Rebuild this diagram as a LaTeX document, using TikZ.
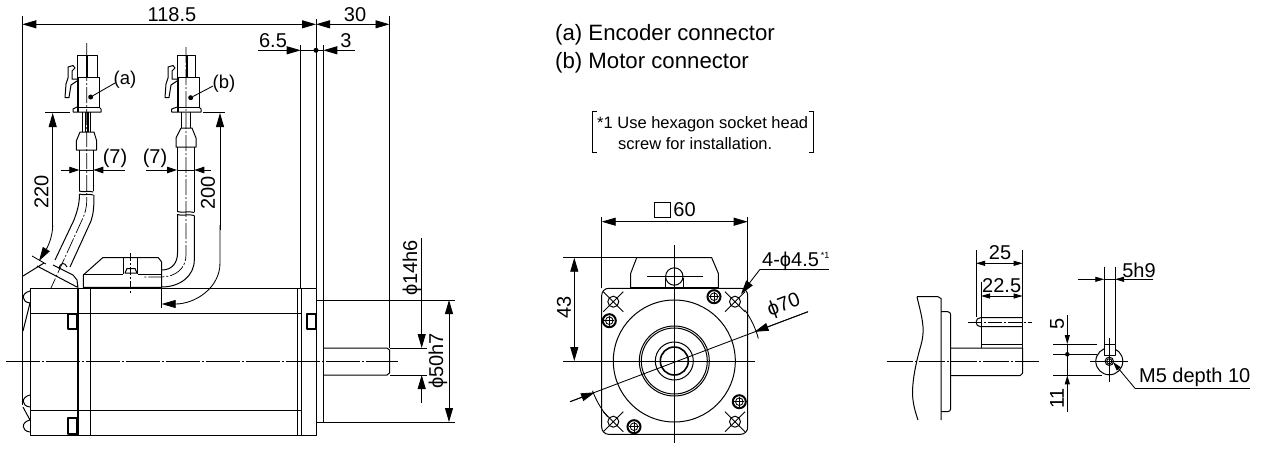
\documentclass[tikz,border=0pt]{standalone}
\usepackage{fontspec}
\setmainfont{Liberation Sans}
\usetikzlibrary{arrows.meta,calc}
\tikzset{
 ln/.style={line width=1pt,black,line cap=butt,line join=round},
 dm/.style={line width=0.85pt,black},
 thk/.style={line width=1.7pt,black},
 ctr/.style={line width=0.85pt,black,dash pattern=on 34pt off 2pt on 2pt off 2pt},
 ctrs/.style={line width=0.7pt,black,dash pattern=on 16pt off 2pt on 2pt off 2pt},
 ah/.style={-{Triangle[length=14pt,width=8pt]}},
 ahm/.style={-{Triangle[length=10pt,width=6.5pt]}},
 ahb/.style={{Triangle[length=14pt,width=8pt]}-{Triangle[length=14pt,width=8pt]}},
 as/.style={-{Triangle[length=9pt,width=5pt]}},
 asb/.style={{Triangle[length=9pt,width=5pt]}-{Triangle[length=9pt,width=5pt]}},
 lab/.style={inner sep=0pt,font=\fontsize{20}{20}\selectfont},
 labm/.style={inner sep=0pt,font=\fontsize{18.5}{19}\selectfont},
 labs/.style={inner sep=0pt,font=\fontsize{20}{20}\selectfont},
 big/.style={inner sep=0pt,anchor=west,font=\fontsize{22.2}{23}\selectfont},
 note/.style={inner sep=0pt,anchor=west,font=\fontsize{16.5}{17}\selectfont},
 dotn/.style={circle,fill=black,inner sep=0pt,minimum size=5pt}
}
\begin{document}
\begin{tikzpicture}[x=1pt,y=-1pt]
\useasboundingbox (0,0) rectangle (1261,448);
\fill[white] (0,0) rectangle (1261,448);
% ===== Side view: body
\draw[ln] (30,288.3) rectangle (316,435);
\draw[thk] (78,288) -- (78,435);
\draw[ln] (90,288) -- (90,435) (297,288) -- (297,435) (301,288) -- (301,435);
\draw[ln] (30,313.7) -- (301,313.7) (30,410) -- (301,410);
\draw[ln,line width=1.3pt] (68,314) rectangle (77,329) (68,418) rectangle (77,434);
\draw[ln,line width=1.3pt] (307,314) rectangle (316,329);
\draw[ln] (316,300) -- (323.3,300) -- (323.3,422) -- (316,422);
\draw[ln] (323.3,348) -- (387,348) -- (389.5,350) -- (389.5,373) -- (387,375) -- (323.3,375);
\draw[ctr] (6,361) -- (398,361);
% rear bumps
\draw[ln] (30,291) .. controls (21,293) and (21,302) .. (30,303);
\draw[ln] (30,395) .. controls (21,397) and (21,406) .. (30,407);
\draw[ln] (30,420) .. controls (21,422) and (21,431) .. (30,432);
\draw[ln] (30,303) -- (23,331) (23,407) -- (30,420);
% extension lines
\draw[dm] (22.3,16) -- (22.3,405);
\draw[dm] (300.7,45) -- (300.7,288);
\draw[dm] (316,19) -- (316,288);
\draw[dm] (323.3,45) -- (323.3,300);
\draw[dm] (389.5,16) -- (389.5,348);
% top dims
\draw[dm,ahb] (22.3,24.3) -- (316,24.3);
\draw[dm,ahb] (316,24.3) -- (389.5,24.3);
\node[lab] (d118) at (172,14.5) {118.5};
\node[lab] (d30) at (355,14.5) {30};
\draw[dm,ah] (258,50.3) -- (300.7,50.3);
\draw[dm,ah] (355,50.3) -- (323.3,50.3);
\draw[dm] (300.7,50.3) -- (323.3,50.3);
\node[dotn] (dc) at (316,50.3) {};
\node[lab] (d65) at (273,40.5) {6.5};
\node[lab] (d3) at (346,40.5) {3};
% 50h7 and 14h6
\draw[dm] (323,300) -- (455,300) (316,422) -- (455,422);
\draw[dm,ahb] (449,300) -- (449,422);
\node[lab,rotate=90] (d50) at (438,361) {ϕ50h7};
\draw[dm] (390,348) -- (427,348) (390,375) -- (427,375);
\draw[dm,ah] (421.7,238) -- (421.7,348);
\draw[dm,ah] (421.7,403) -- (421.7,375);
\node[lab,rotate=90] (d14) at (412,268) {ϕ14h6};
% ===== Connector a
\draw[ln] (77,77) -- (77,55) -- (97,55) -- (97,77);
\draw[ln] (77,77) rectangle (99,107);
\draw[ln] (73,112) -- (73,109) -- (77,107) (99,107) -- (101,109) -- (101,112) -- (73,112);
\draw[thk] (78,77) -- (78,112);
\draw[thk] (87,55) -- (87,77);
\draw[ln] (68,78) -- (68,67) -- (73,65.5) -- (75,68) -- (72,71) -- (72,79) -- (77,79);
\draw[ln] (68,78) -- (66,84) -- (65,97.5) -- (69,97.5) -- (71,85) -- (77,81);
\draw[ln] (82.7,112) -- (82.7,132) (90.7,112) -- (90.7,132);
\draw[thk] (85.5,112) -- (85.5,132) (88,112) -- (88,132);
\draw[ln] (80,132) -- (94,132) -- (96.7,141) -- (96.7,150) -- (76.3,150) -- (76.3,141) -- (80,132);
\draw[ln] (79.3,150) -- (79.3,191) (93.3,150) -- (93.3,191);
\draw[ln] (79.3,191) .. controls (84,193) and (88,190) .. (93.3,192);
\draw[ln] (79.3,194) .. controls (84,196) and (88,193) .. (93.3,195);
\draw[ln] (79.5,194) .. controls (79.5,206) and (76,214) .. (74,220) -- (55,260);
\draw[ln] (94,195) .. controls (94,206) and (93.5,214) .. (91,221) -- (70,267);
\draw[ctrs] (86.7,43) -- (86.7,200) .. controls (86.7,208) and (85,214) .. (82,220) -- (51,288);
\node[dotn] (da) at (90.7,97) {};
\node[labm] (la) at (125,80) {(a)};
\draw[dm] (da) -- (115,83);
% 7 a
\draw[dm,ahm] (60.7,170) -- (79.3,170);
\draw[dm,ahm] (125,170) -- (93.3,170);
\draw[dm] (79.3,170) -- (93.3,170);
\node[lab] (d7a) at (115,158) {(7)};
% 220
\draw[dm] (45,112.5) -- (70,112.5);
\draw[dm,ah] (52.7,230) -- (52.7,113);
\draw[dm,ah] (52.7,225) .. controls (52.7,238) and (47,248) .. (39,261);
\node[lab,rotate=90] (d220) at (41.5,192) {220};
\draw[dm] (32,256) -- (46,264);
% encoder cable cap
\draw[ln] (23,276) -- (44,263) (37,266) -- (77,287) (53,265) -- (73,275) -- (77,280) -- (78,288);
\draw[ln] (59,269) .. controls (60,262) and (65,262) .. (67,267);
% ===== Connector b
\draw[ln] (177.3,77) -- (177.3,55) -- (195.7,55) -- (195.7,77);
\draw[ln] (177.3,77) rectangle (199,107);
\draw[ln] (171.7,112) -- (171.7,109) -- (177.3,107) (199,107) -- (201,109) -- (201,112) -- (171.7,112);
\draw[thk] (178,77) -- (178,112);
\draw[line width=2.2pt] (187,55) -- (187,77);
\draw[ln] (168,78) -- (168,67) -- (173,65.5) -- (175,68) -- (172,71) -- (172,79) -- (177,79);
\draw[ln] (168,78) -- (166,84) -- (165,97.5) -- (169,97.5) -- (171,85) -- (177,81);
\draw[ln] (181.7,112) -- (181.7,128) (190.7,112) -- (190.7,128);
\draw[ln] (181,128) -- (192,128) -- (196,138) -- (196,147) -- (176,147) -- (176,138) -- (181,128);
\draw[ln] (177,147) -- (177,211.5) (194.3,147) -- (194.3,212);
\draw[ln] (177,211.5) .. controls (183,213.5) and (188,210.5) .. (194.3,212.5);
\draw[ln] (177,214.5) .. controls (183,216.5) and (188,213.5) .. (194.3,215.5);
\draw[ln] (177.5,214.5) -- (177.5,253) .. controls (177.5,263) and (172,270) .. (161.7,270);
\draw[ln] (194.3,215.5) -- (194.3,260) .. controls (194.3,276) and (180,287) .. (161.7,287);
\draw[ctrs] (186,47) -- (186,255) .. controls (186,268) and (176,277) .. (161,277) -- (144,277);
\node[dotn] (db) at (190.7,97.7) {};
\node[labm] (lb) at (224,84) {(b)};
\draw[dm] (db) -- (213,86);
% 7 b
\draw[dm,ahm] (146,170) -- (177,170);
\draw[dm,ahm] (211,170) -- (194.3,170);
\draw[dm] (177,170) -- (194.3,170);
\node[lab] (d7b) at (155,158) {(7)};
% 200
\draw[dm] (203,112.5) -- (225,112.5);
\draw[dm,ah] (220,230) -- (220,113);
\draw[dm,ah] (220,225) -- (220,263) .. controls (220,288) and (195,304) .. (161.7,304);
\node[lab,rotate=90] (d200) at (208,193) {200};
\draw[dm] (161.7,288) -- (161.7,308);
% motor connector box
\draw[ln] (83.3,287.3) -- (83.3,275) -- (102.7,257.7) -- (158.3,257.7) -- (161.7,262) -- (161.7,287.3) -- cycle;
\draw[thk] (83.3,287.6) -- (161.7,287.6);
\draw[ln] (83.3,274) -- (123.3,274) (138,274) -- (161.7,274);
\draw[ln] (123.3,257.7) -- (123.3,274) (137.7,257.7) -- (137.7,274);
\draw[ln] (125,273) -- (127,268.5) -- (135,268.5) -- (137,273) -- cycle;
\draw[ctrs,dash pattern=on 8pt off 2pt on 2pt off 2pt] (130.3,253) -- (130.3,293);
% ===== Front view
\coordinate (c) at (674.3,361);
\draw[ln,rounded corners=7pt] (601.7,288.3) rectangle (747.7,434.3);
\draw[ln] (c) circle (61);
\draw[ln] (c) circle (35);
\draw[ln] (c) circle (33);
\draw[ln] (c) circle (19);
\draw[line width=1.6pt] (c) circle (14);
\draw[dm] (674.3,245) -- (674.3,443);
\draw[dm] (563,361) -- (755,361);
% connector top
\draw[ln] (630.7,288) -- (630.7,273.3) -- (636.7,257.7) -- (711.7,257.7) -- (718.3,273.3) -- (718.3,288);
\draw[thk] (630.7,288) -- (718.3,288);
\draw[ln] (674.3,276.5) circle (8.7);
\draw[ln] (665.6,278) -- (665.6,287) (683,278) -- (683,287);
\draw[dm] (647,276.7) -- (702.7,276.7);
% holes
\foreach \hx/\hy in {613.3/301.7,735/301.7,613.3/421.7,735/421.7}{
 \draw[ln] (\hx,\hy) circle (5.5);
 \draw[dm] (\hx-10,\hy-10) -- (\hx+10,\hy+10) (\hx-10,\hy+10) -- (\hx+10,\hy-10);
}
% bolts
\foreach \hx/\hy in {714/296.7,609.3/320.7,739.3/401.7,634/426.7}{
 \fill[white] (\hx,\hy) circle (7);
 \draw[line width=2pt] (\hx,\hy) circle (6.5);
 \draw[dm] (\hx,\hy) circle (3.8);
 \draw[dm] (\hx-5,\hy) -- (\hx+5,\hy) (\hx,\hy-5) -- (\hx,\hy+5);
}
% 60
\draw[dm] (601.7,216.7) -- (601.7,288) (747.7,216.7) -- (747.7,288);
\draw[dm,ahb] (601.7,221.7) -- (747.7,221.7);
\draw[dm] (654,202.7) rectangle (670.7,217.3);
\node[lab] (d60) at (684.5,210) {60};
% 43
\draw[dm] (563,257.7) -- (636.7,257.7);
\draw[dm,ahb] (574.3,257.7) -- (574.3,361);
\node[lab,rotate=90] (d43) at (564,307) {43};
% phi 70
\draw[dm] (570,401.7) -- (808,311.7);
\draw[dm,ah] (570,401.7) -- (595,392.3);
\draw[dm,ah] (808,311.7) -- (754.5,331.8);
\draw[dm] (c) ++(-36:87) arc (-36:-15:87);
\draw[dm] (c) ++(160:87) arc (160:140:87);
\node[lab,rotate=20.7] (d70) at (784,306) {ϕ70};
% 4-phi
\node[labs,anchor=west] (d45) at (762,261.5) {4-ϕ4.5};
\node[inner sep=0pt,font=\fontsize{9}{9}\selectfont] (d45s) at (825,255.5) {*1};
\draw[dm] (829,269.3) -- (760,269.3);
\draw[dm,ah] (760,269.3) -- (741,294);
% ===== Key view
\draw[ln] (917,296.7) -- (938,296.7) -- (941,298.5) -- (941,420);
\draw[ln] (917,296.7) .. controls (921,315) and (926,327) .. (921,345) .. controls (916,362) and (911,385) .. (913,400) .. controls (914,408) and (916,414) .. (918,420);
\draw[ln,rounded corners=3pt] (941,311.7) -- (950.7,311.7) -- (950.7,411.7) -- (941,411.7);
\draw[ln] (950.7,348) -- (1022.7,348) -- (1022.7,373) -- (1020,375.7) -- (950.7,375.7);
\draw[ln] (981,348) -- (981,344) -- (1022.7,344) -- (1022.7,348);
\draw[dm,dash pattern=on 26pt off 2pt on 2pt off 2pt] (886.7,361.3) -- (1039,361.3);
\draw[ln] (1022.7,317.7) -- (980.5,317.7) arc (-90:-270:4.5) -- (1022.7,326.7);
\draw[dm,dash pattern=on 14pt off 2pt on 2pt off 2pt] (968,322.3) -- (1032,322.3);
\draw[dm] (976,250) -- (976,317) (981,282) -- (981,344) (1022.7,250) -- (1022.7,344);
\draw[dm,asb] (976,263.3) -- (1022.7,263.3);
\draw[dm,asb] (981,296) -- (1022.7,296);
\node[labs] (d25) at (1000,253) {25};
\node[labs] (d225) at (1001.7,285.5) {22.5};
% End view
\coordinate (e) at (1109.3,361.3);
\draw[ln] (e) circle (13.5);
\fill[white] (1104.3,344) rectangle (1115,355);
\draw[ln] (1104.3,344) rectangle (1115,355);
\draw[ln] (e) circle (4.2);
\draw[dm] (e) circle (2.6);
\draw[dm] (1090,361.3) -- (1128,361.3) (1109.3,338) -- (1109.3,382);
\draw[dm] (1104.3,266.7) -- (1104.3,344) (1115,266.7) -- (1115,344);
\draw[dm,as] (1078,279.3) -- (1104.3,279.3);
\draw[dm,as] (1153.3,279.3) -- (1115,279.3);
\draw[dm] (1104.3,279.3) -- (1115,279.3);
\node[labs] (d5h9) at (1139,270) {5h9};
\draw[dm] (1053,344) -- (1097,344) (1053,354.3) -- (1097,354.3) (1053,375.3) -- (1102,375.3);
\draw[dm,as] (1067.3,315) -- (1067.3,344);
\draw[dm] (1067.3,344) -- (1067.3,375.3);
\draw[dm,as] (1067.3,411.7) -- (1067.3,375.3);
\node[dotn,minimum size=4.5pt] (d5d) at (1067.3,354.3) {};
\node[labs,rotate=90] (d5) at (1057,324.3) {5};
\node[labs,rotate=90] (d11) at (1057,398.3) {11};
\node[labs] (m5) at (1194.7,377.5) {M5 depth 10};
\draw[dm] (1250,388.3) -- (1135,388.3);
\draw[dm,as] (1135,388.3) -- (1113,362);
% ===== Text
\node[big] (ta) at (555,35) {(a) Encoder connector};
\node[big] (tb) at (555,63) {(b) Motor connector};
\node[note] (n1) at (597,124) {*1 Use hexagon socket head};
\node[note] (n2) at (618,144) {screw for installation.};
\draw[dm] (597,111) -- (592.5,111) -- (592.5,152) -- (597,152);
\draw[dm] (808.5,111) -- (813.5,111) -- (813.5,152) -- (808.5,152);
\end{tikzpicture}
\end{document}
